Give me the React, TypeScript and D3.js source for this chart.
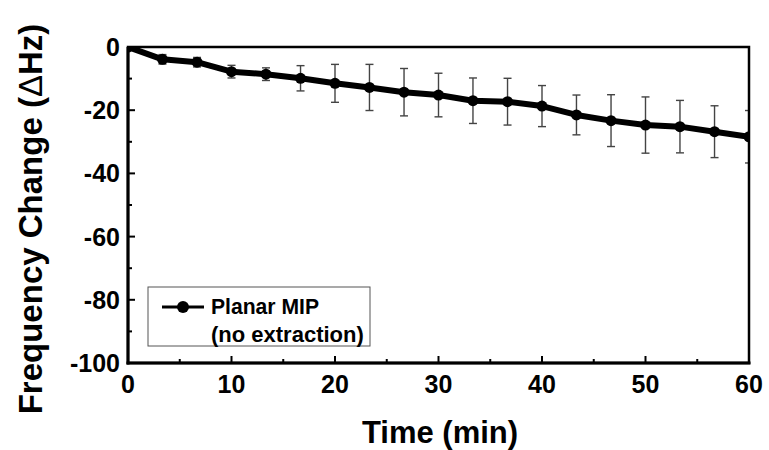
import React from "react";
import * as d3 from "d3";

const times = [0, 3.33, 6.67, 10, 13.33, 16.67, 20, 23.33, 26.67, 30, 33.33, 36.67, 40, 43.33, 46.67, 50, 53.33, 56.67, 60];
const freq = [0, -3.9, -4.8, -7.8, -8.6, -9.9, -11.5, -12.8, -14.3, -15.2, -17.0, -17.3, -18.7, -21.5, -23.3, -24.7, -25.2, -26.8, -28.4];
const errs = [0.5, 1.5, 1.5, 2, 2, 4, 6, 7.3, 7.5, 6.9, 7.2, 7.4, 6.5, 6.3, 8.2, 8.9, 8.3, 8.2, 8.3];
const xTicks = [0, 10, 20, 30, 40, 50, 60];
const xMinor = [5, 15, 25, 35, 45, 55];
const yTicks = [0, -20, -40, -60, -80, -100];
const yMinor = [-10, -30, -50, -70, -90];
const legendLines = ["Planar MIP", "(no extraction)"];

export default function App() {
  const W = 769, H = 450;
  const x0 = 128, x1 = 749, y0 = 47, y1 = 363;
  const x = d3.scaleLinear().domain([0, 60]).range([x0, x1]);
  const y = d3.scaleLinear().domain([-100, 0]).range([y1, y0]);
  const line = d3.line<number>().x((_, i) => x(times[i])).y((d) => y(d));
  const font = "'Liberation Sans', Arial, sans-serif";
  const ebColor = "#444";

  return (
    <svg width={W} height={H} style={{ position: "absolute", left: 0, top: 0, background: "#fff" }} fontFamily={font}>
      <defs>
        <clipPath id="plot">
          <rect x={x0} y={y0} width={x1 - x0} height={y1 - y0} />
        </clipPath>
      </defs>
      {/* error bars */}
      <g clipPath="url(#plot)" stroke={ebColor} strokeWidth={1.4}>
        {times.map((t, i) => (
          <g key={i}>
            <line x1={x(t)} x2={x(t)} y1={y(freq[i] + errs[i])} y2={y(freq[i] - errs[i])} />
            <line x1={x(t) - 4} x2={x(t) + 4} y1={y(freq[i] + errs[i])} y2={y(freq[i] + errs[i])} />
            <line x1={x(t) - 4} x2={x(t) + 4} y1={y(freq[i] - errs[i])} y2={y(freq[i] - errs[i])} />
          </g>
        ))}
      </g>
      <g clipPath="url(#plot)">
        <path d={line(freq) || ""} fill="none" stroke="#000" strokeWidth={6} strokeLinejoin="round" />
        {times.map((t, i) => (
          <circle key={i} cx={x(t)} cy={y(freq[i])} r={5.5} fill="#000" />
        ))}
      </g>
      {/* frame */}
      <rect x={x0} y={y0} width={x1 - x0} height={y1 - y0} fill="none" stroke="#000" strokeWidth={2.5} />
      <line x1={x0} x2={x0} y1={y0} y2={y1 + 1.5} stroke="#000" strokeWidth={3} />
      <line x1={x0 - 1.5} x2={x1 + 1.5} y1={y1} y2={y1} stroke="#000" strokeWidth={3} />
      {/* ticks */}
      <g stroke="#000" strokeWidth={2}>
        {xTicks.map((t) => (
          <line key={"xt" + t} x1={x(t)} x2={x(t)} y1={y1} y2={y1 - 7} />
        ))}
        {xMinor.map((t) => (
          <line key={"xm" + t} x1={x(t)} x2={x(t)} y1={y1} y2={y1 - 4} />
        ))}
        {yTicks.map((t) => (
          <line key={"yt" + t} x1={x0} x2={x0 + 7} y1={y(t)} y2={y(t)} />
        ))}
        {yMinor.map((t) => (
          <line key={"ym" + t} x1={x0} x2={x0 + 4} y1={y(t)} y2={y(t)} />
        ))}
      </g>
      {/* tick labels */}
      <g fontSize={25} fontWeight="bold" fill="#000">
        {xTicks.map((t) => (
          <text key={"xl" + t} x={x(t)} y={393} textAnchor="middle">{t}</text>
        ))}
        {yTicks.map((t) => (
          <text key={"yl" + t} x={120} y={y(t) + 9} textAnchor="end">{t}</text>
        ))}
      </g>
      {/* axis titles */}
      <text x={440} y={443} textAnchor="middle" fontSize={31} fontWeight="bold">Time (min)</text>
      <text transform={`translate(42,219) rotate(-90)`} textAnchor="middle" fontSize={33} fontWeight="bold">
        Frequency Change (<tspan fontWeight="normal">Δ</tspan>Hz)
      </text>
      {/* legend */}
      <rect x={148} y={287} width={222} height={59} fill="#fff" stroke="#555" strokeWidth={1} />
      <line x1={162} x2={204} y1={307} y2={307} stroke="#000" strokeWidth={3} />
      <circle cx={183} cy={307} r={6} fill="#000" />
      <text x={211} y={314} fontSize={22} fontWeight="bold" textLength={108} lengthAdjust="spacingAndGlyphs">{legendLines[0]}</text>
      <text x={211} y={342} fontSize={22} fontWeight="bold">{legendLines[1]}</text>
    </svg>
  );
}
